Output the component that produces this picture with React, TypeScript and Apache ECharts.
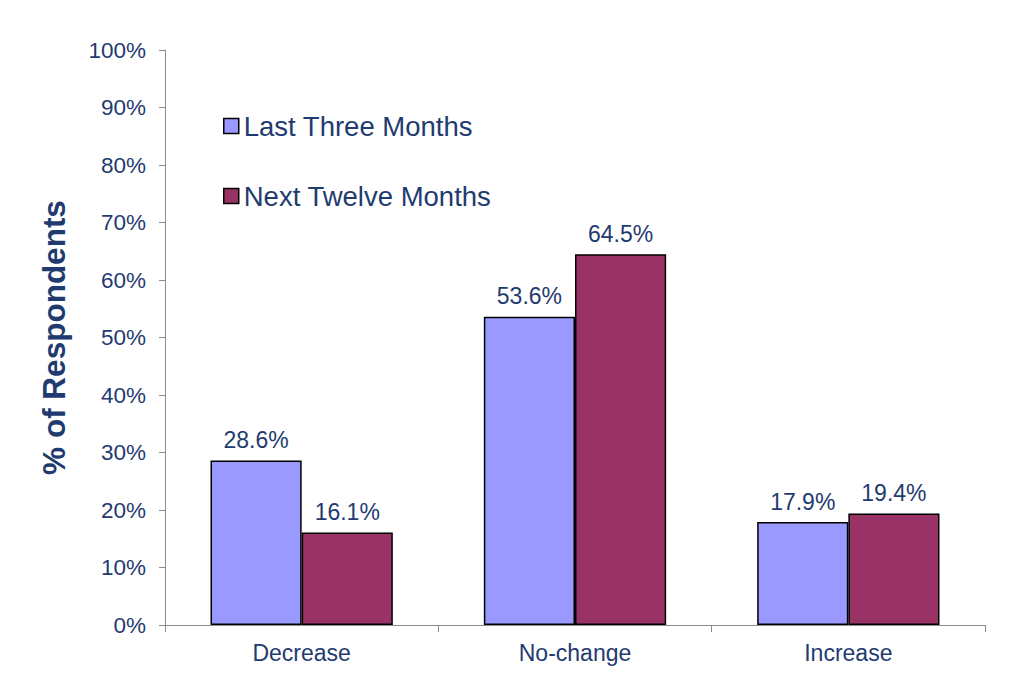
import React, { useEffect, useRef } from "react";
import * as echarts from "echarts";

const categories = ["Decrease", "No-change", "Increase"];
const lastThree = [28.6, 53.6, 17.9];
const nextTwelve = [16.1, 64.5, 19.4];
const seriesNames = ["Last Three Months", "Next Twelve Months"];

const TEXT = "#1F3B70";
const FONT = "Liberation Sans, Arial, sans-serif";

export default function App() {
  const ref = useRef<HTMLDivElement>(null);
  useEffect(() => {
    document.body.style.margin = "0";
    const chart = echarts.init(ref.current!, null, { renderer: "svg" });
    const label = {
      show: true,
      position: "top",
      distance: 9,
      color: TEXT,
      fontSize: 23,
      fontFamily: FONT,
      formatter: (p: any) => p.value.toFixed(1) + "%",
    };
    const legendBase = {
      left: 218,
      icon: "rect",
      itemWidth: 15,
      itemHeight: 15,
      itemGap: 0,
      itemStyle: { borderColor: "#000000", borderWidth: 1.5 },
      textStyle: { color: TEXT, fontSize: 27.5, fontFamily: FONT },
      selectedMode: false,
    };
    chart.setOption({
      animation: false,
      backgroundColor: "#ffffff",
      textStyle: { fontFamily: FONT },
      grid: { left: 165, right: 39, top: 50, bottom: 59 },
      legend: [
        { ...legendBase, data: [seriesNames[0]], top: 107 },
        { ...legendBase, data: [seriesNames[1]], top: 177 },
      ],
      xAxis: {
        type: "category",
        data: categories,
        axisLine: { lineStyle: { color: "#8c8c8c", width: 1 } },
        axisTick: { show: true, length: 7, lineStyle: { color: "#8c8c8c" } },
        axisLabel: { color: TEXT, fontSize: 23, fontFamily: FONT, margin: 16 },
      },
      yAxis: {
        type: "value",
        min: 0,
        max: 100,
        interval: 10,
        name: "% of Respondents",
        nameLocation: "middle",
        nameGap: 95,
        nameTextStyle: { color: TEXT, fontSize: 31.5, fontWeight: "bold", fontFamily: FONT },
        axisLine: { show: true, lineStyle: { color: "#8c8c8c", width: 1 } },
        axisTick: { show: true, length: 6, lineStyle: { color: "#8c8c8c" } },
        splitLine: { show: false },
        axisLabel: {
          color: TEXT,
          fontSize: 22.5,
          fontFamily: FONT,
          margin: 19,
          formatter: (v: number) => v + "%",
        },
      },
      series: [
        {
          name: seriesNames[0],
          type: "bar",
          data: lastThree,
          barGap: "0%",
          barCategoryGap: "33.3%",
          itemStyle: { color: "#9999FF", borderColor: "#000000", borderWidth: 1.5 },
          label,
        },
        {
          name: seriesNames[1],
          type: "bar",
          data: nextTwelve,
          itemStyle: { color: "#993366", borderColor: "#000000", borderWidth: 1.5 },
          label,
        },
      ],
    });
    return () => chart.dispose();
  }, []);
  return <div ref={ref} style={{ width: 1024, height: 684 }} />;
}
